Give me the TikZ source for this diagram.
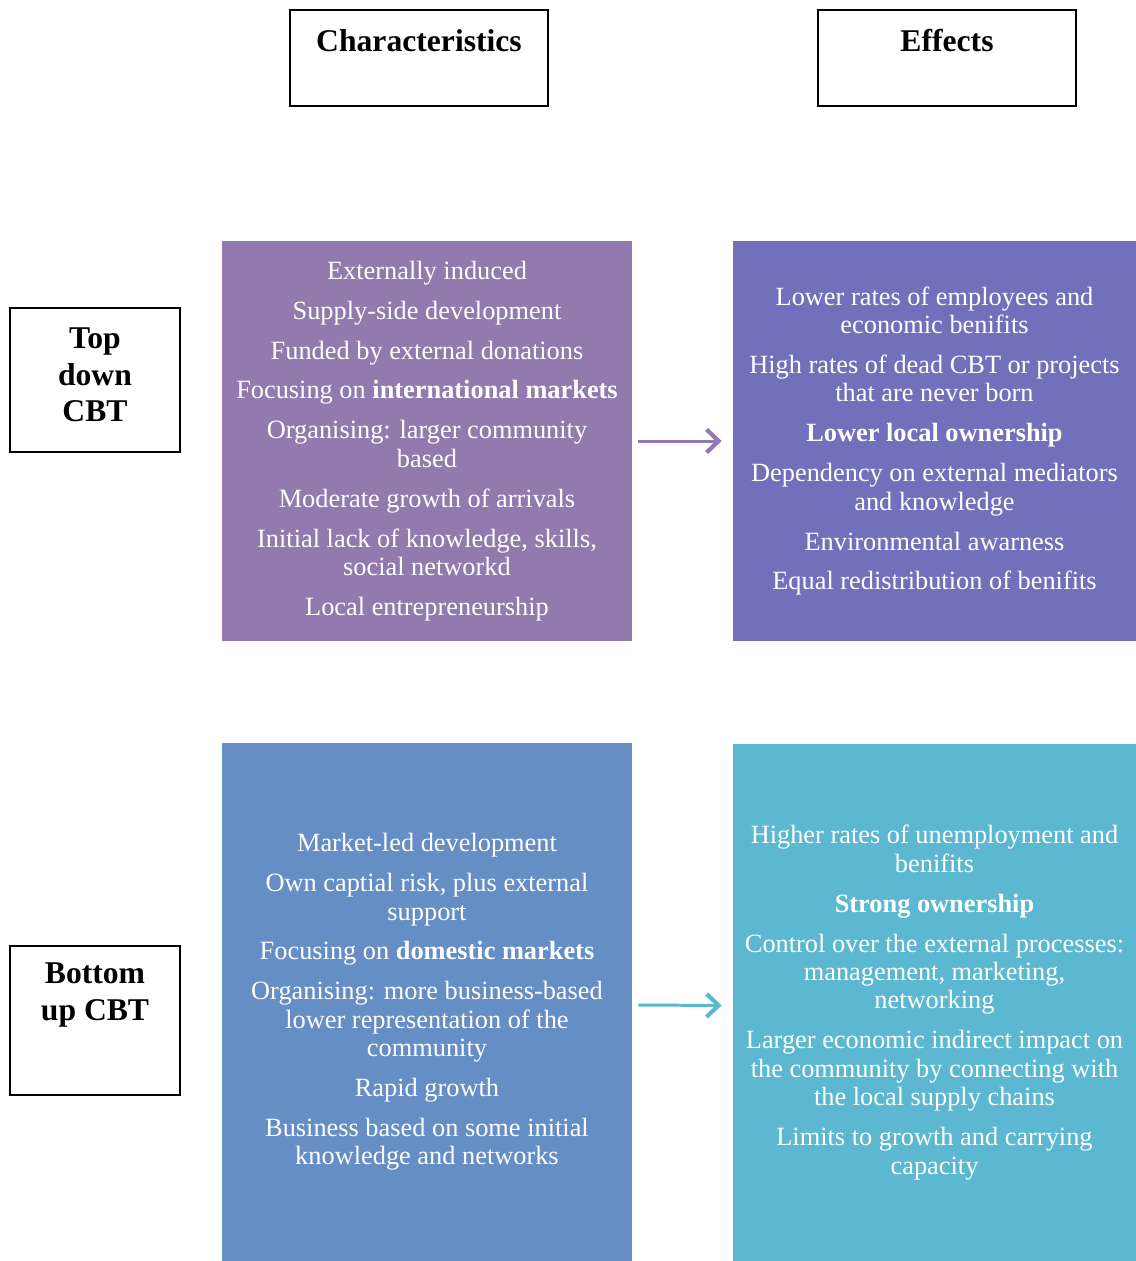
\documentclass[tikz,border=0pt]{standalone}
\usepackage{fontspec}
\setmainfont{Liberation Serif}
\definecolor{cbtpurple}{RGB}{146,122,175}
\definecolor{cbtviolet}{RGB}{113,113,187}
\definecolor{cbtblue}{RGB}{101,142,197}
\definecolor{cbtcyan}{RGB}{91,184,208}
\usetikzlibrary{arrows.meta,positioning}

\begin{document}
\begin{tikzpicture}[
  hdr/.style={draw=black, line width=0.8pt, minimum width=5.16cm, minimum height=1.92cm, align=center, font=\fontsize{18}{21}\selectfont\bfseries},
  side/.style={draw=black, line width=0.8pt, minimum width=3.4cm, align=center, font=\fontsize{18}{21}\selectfont\bfseries},
  panel/.style={fill=#1, text=white, inner sep=0pt, align=center, font=\fontsize{15}{16.2}\selectfont},
  link/.style={draw=#1, line width=1.7pt, -{Straight Barb[length=2.4mm,width=4.6mm,line width=2.4pt]}, shorten <=0.12cm, shorten >=0.22cm}
]
  \useasboundingbox (0,0) rectangle (22.72,-25.22);

  % column headers
  \node[hdr] (chr) at (8.38,-1.16) {Characteristics\\[-7pt]\strut};
  \node[hdr] (eff) at (18.94,-1.16) {Effects\\[-7pt]\strut};

  % row labels
  \node[side, minimum height=2.88cm] (td) at (1.9,-7.6) {Top\\down\\CBT\\[-15pt]\mbox{}};
  \node[side, minimum height=2.98cm] (bu) at (1.9,-20.41) {Bottom\\up CBT\\[6pt]\strut};

  % top down CBT
  \node[panel=cbtpurple, minimum width=8.2cm, minimum height=8.0cm] (tdc) at (8.54,-8.82) {Externally induced\\[6.5pt]
    Supply-side development\\[6.5pt]
    Funded by external donations\\[6.5pt]
    Focusing on \textbf{international markets}\\[6.5pt]
    Organising: larger community\\based\\[6.5pt]
    Moderate growth of arrivals\\[6.5pt]
    Initial lack of knowledge, skills,\\social networkd\\[6.5pt]
    Local entrepreneurship};
  \node[panel=cbtviolet, minimum width=8.06cm, minimum height=8.0cm] (tde) at (18.69,-8.82) {Lower rates of employees and\\economic benifits\\[6.5pt]
    High rates of dead CBT or projects\\that are never born\\[6.5pt]
    \textbf{Lower local ownership}\\[6.5pt]
    Dependency on external mediators\\and knowledge\\[6.5pt]
    Environmental awarness\\[6.5pt]
    Equal redistribution of benifits};

  % bottom up CBT
  \node[panel=cbtblue, minimum width=8.2cm, minimum height=10.36cm] (buc) at (8.54,-20.04) {Market-led development\\[6.5pt]
    Own captial risk, plus external\\support\\[6.5pt]
    Focusing on \textbf{domestic markets}\\[6.5pt]
    Organising: more business-based\\lower representation of the\\community\\[6.5pt]
    Rapid growth\\[6.5pt]
    Business based on some initial\\knowledge and networks};
  \node[panel=cbtcyan, minimum width=8.06cm, minimum height=10.34cm] (bue) at (18.69,-20.05) {Higher rates of unemployment and\\benifits\\[6.5pt]
    \textbf{Strong ownership}\\[6.5pt]
    Control over the external processes:\\management, marketing,\\networking\\[6.5pt]
    Larger economic indirect impact on\\the community by connecting with\\the local supply chains\\[6.5pt]
    Limits to growth and carrying\\capacity};

  \draw[link=cbtpurple] (tdc.east) -- (tde.west);
  \draw[link=cbtcyan] ([yshift=-0.06cm]buc.east) -- ([yshift=-0.06cm]bue.west);
\end{tikzpicture}
\end{document}
